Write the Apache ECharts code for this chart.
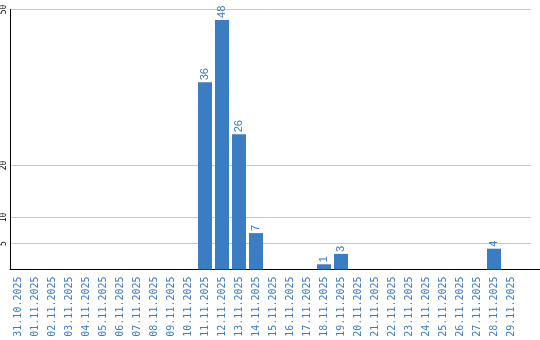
<!DOCTYPE html>
<html><head><meta charset="utf-8">
<script src="https://cdn.jsdelivr.net/npm/echarts@6/dist/echarts.min.js"></script>
<style>html,body{margin:0;padding:0;background:#fff}#c{width:540px;height:340px}</style>
</head><body><div id="c"></div>
<script>
const categories = ['31.10.2025','01.11.2025','02.11.2025','03.11.2025','04.11.2025','05.11.2025','06.11.2025','07.11.2025','08.11.2025','09.11.2025','10.11.2025','11.11.2025','12.11.2025','13.11.2025','14.11.2025','15.11.2025','16.11.2025','17.11.2025','18.11.2025','19.11.2025','20.11.2025','21.11.2025','22.11.2025','23.11.2025','24.11.2025','25.11.2025','26.11.2025','27.11.2025','28.11.2025','29.11.2025'];
const counts = [0,0,0,0,0,0,0,0,0,0,0,36,48,26,7,0,0,0,1,3,0,0,0,0,0,0,0,0,4,0];
const yTickValues = [5,10,20,50];
const yMin = 0;
const yMax = 50;

const blue = '#3a7dc2';
const chart = echarts.init(document.getElementById('c'), null, {renderer:'canvas'});
chart.setOption({
  animation: false,
  backgroundColor: '#fff',
  grid: [
    {left: 10, right: 9, top: 9.5, bottom: 70.5},
    {left: 10, right: 0, top: 9.5, bottom: 70.5},
    {left: 9.5, right: 20.5, top: 9.5, bottom: 70.5}
  ],
  xAxis: [
    {gridIndex: 0, type: 'value', show: false},
    {gridIndex: 1, type: 'value', min: 0, max: 1, axisLine: {show: true, lineStyle: {color: '#000', width: 1}}, axisTick: {show: false}, axisLabel: {show: false}, splitLine: {show: false}},
    {gridIndex: 2, type: 'category', data: categories,
      axisLine: {show: false}, axisTick: {show: false},
      axisLabel: {interval: 0, rotate: 90, color: blue, fontFamily: 'DejaVu Sans Mono', fontSize: 10, margin: 7}
    }
  ],
  yAxis: [
    {gridIndex: 0, type: 'value', min: yMin, max: yMax,
      axisLine: {show: true, lineStyle: {color: '#000', width: 1}},
      axisTick: {show: false, customValues: yTickValues},
      axisLabel: {customValues: yTickValues, rotate: 90, align: 'center', verticalAlign: 'bottom', color: '#000', fontFamily: 'DejaVu Sans Mono', fontSize: 8, margin: 2},
      splitLine: {show: true, lineStyle: {color: '#c8c8c8', width: 1}}
    },
    {gridIndex: 1, type: 'value', min: yMin, max: yMax, show: false},
    {gridIndex: 2, type: 'value', min: yMin, max: yMax, show: false}
  ],
  series: [{
    type: 'bar', xAxisIndex: 2, yAxisIndex: 2, data: counts,
    barWidth: 14,
    itemStyle: {color: blue},
    label: {show: true, position: 'top', rotate: 90, align: 'left', verticalAlign: 'middle', distance: 2,
      color: blue, fontFamily: 'Liberation Sans', fontSize: 11,
      formatter: p => p.value ? String(p.value) : ''}
  }]
});
</script></body></html>
